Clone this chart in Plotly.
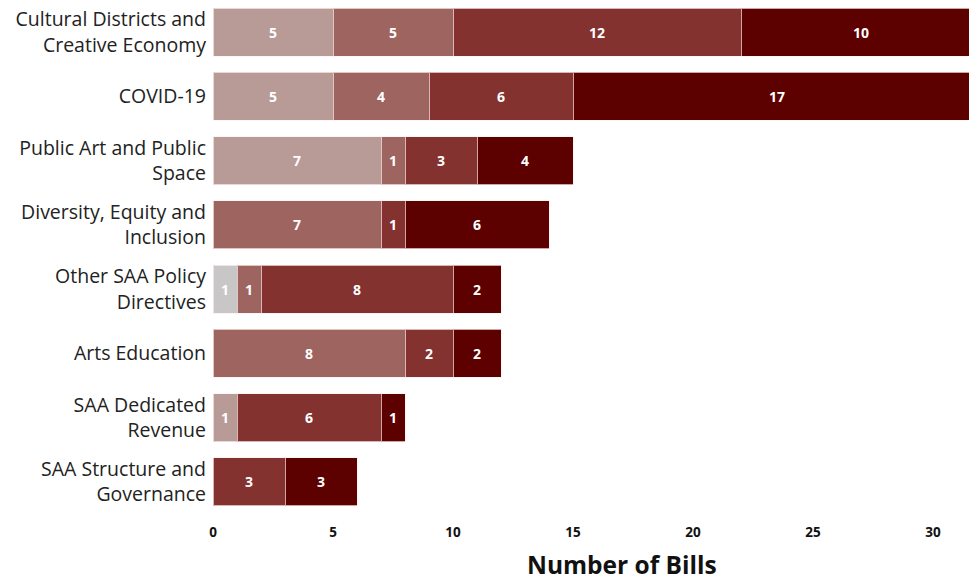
import plotly.graph_objects as go

categories = [
    "Cultural Districts and<br>Creative Economy",
    "COVID-19",
    "Public Art and Public<br>Space",
    "Diversity, Equity and<br>Inclusion",
    "Other SAA Policy<br>Directives",
    "Arts Education",
    "SAA Dedicated<br>Revenue",
    "SAA Structure and<br>Governance",
]

series_names = ["Series A", "Series B", "Series C", "Series D", "Series E"]
series_a = [0, 0, 0, 0, 1, 0, 0, 0]
series_b = [5, 5, 7, 0, 0, 0, 1, 0]
series_c = [5, 4, 1, 7, 1, 8, 0, 0]
series_d = [12, 6, 3, 1, 8, 2, 6, 3]
series_e = [10, 17, 4, 6, 2, 2, 1, 3]
series_values = [series_a, series_b, series_c, series_d, series_e]
colors = ["#c8c6c6", "#b89a96", "#9e6560", "#833230", "#5c0000"]

tick_vals = [0, 5, 10, 15, 20, 25, 30]

fig = go.Figure()
for name, vals, col in zip(series_names, series_values, colors):
    fig.add_trace(go.Bar(
        y=categories,
        x=[v if v else None for v in vals],
        name=name,
        orientation="h",
        marker=dict(color=col, line=dict(color="rgba(255,240,240,0.7)", width=1)),
        text=[str(v) if v else "" for v in vals],
        textposition="inside",
        insidetextanchor="middle",
        textangle=0,
        constraintext="none",
        textfont=dict(family="Open Sans", size=14, color="white", weight="bold"),
        hoverinfo="x+y+name",
    ))

fig.update_layout(
    barmode="stack",
    bargap=0.25,
    width=969,
    height=582,
    margin=dict(l=213, r=0, t=0, b=68),
    paper_bgcolor="white",
    plot_bgcolor="white",
    showlegend=False,
    font=dict(family="Open Sans", color="#222222"),
)
fig.update_yaxes(
    categoryorder="array",
    categoryarray=categories[::-1],
    tickfont=dict(family="Open Sans", size=19.5, color="#222222"),
    ticks="",
    showgrid=False,
    ticklabelstandoff=6,
)
fig.update_xaxes(
    range=[0, 31.5],
    tickvals=tick_vals,
    ticktext=[str(t) for t in tick_vals],
    tickfont=dict(family="Open Sans", size=13.5, color="#111111", weight="bold"),
    showgrid=False,
    zeroline=False,
    ticks="",
    ticklabelstandoff=8,
)
fig.add_annotation(
    text="<b>Number of Bills</b>",
    xref="paper", yref="paper",
    x=(622 - 213) / (969 - 213), y=-0.099,
    xanchor="center", yanchor="middle",
    showarrow=False,
    font=dict(family="Open Sans", size=24.5, color="#111111"),
)

fig.write_html("out.html")
